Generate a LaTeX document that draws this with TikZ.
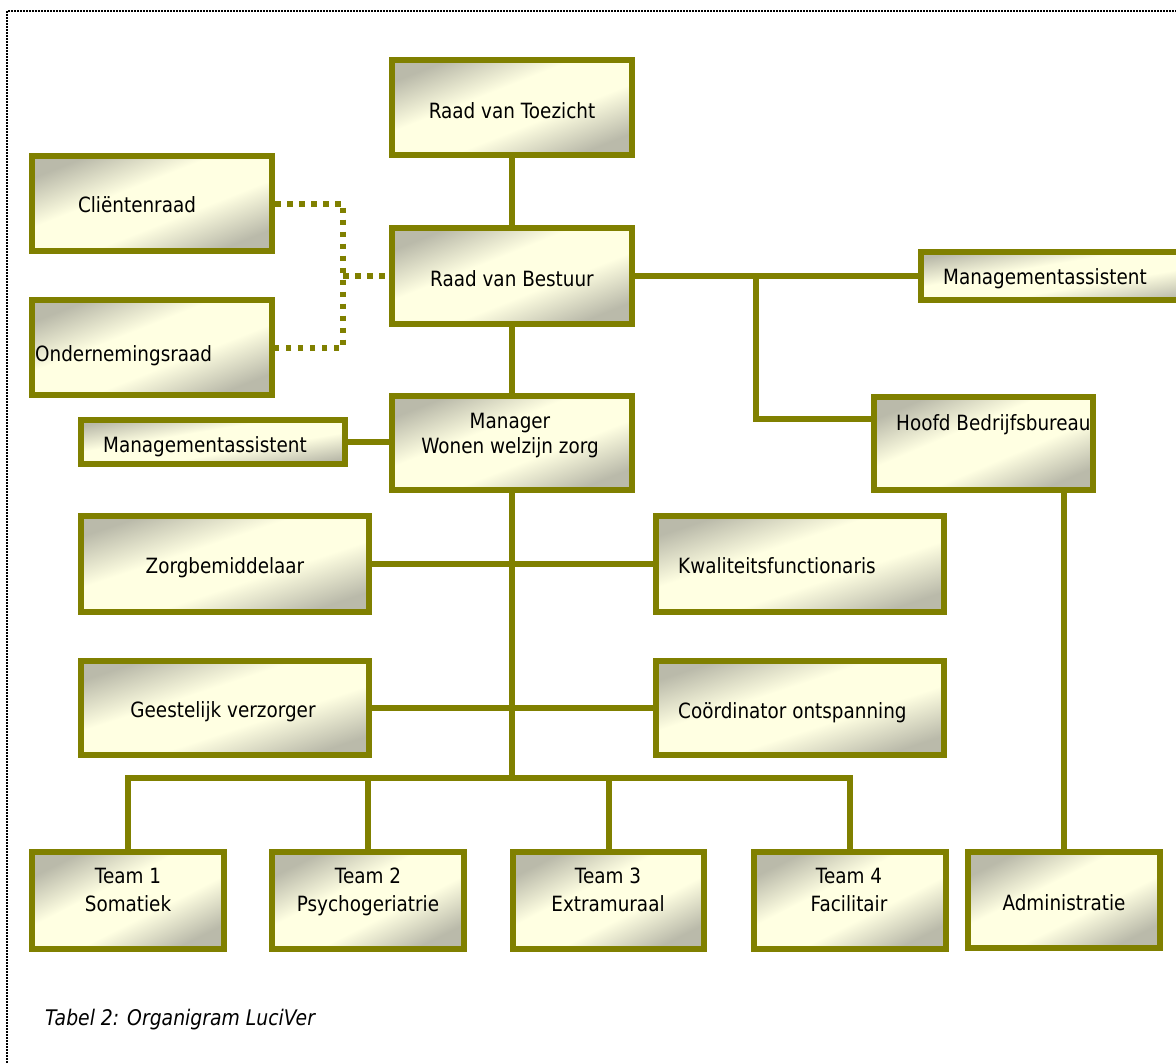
\documentclass[tikz,border=0pt]{standalone}
\usepackage{fontspec}
\setmainfont{DejaVu Sans}[FakeStretch=0.875]
\definecolor{olv}{RGB}{128,128,0}
\definecolor{bxgray}{RGB}{186,186,170}
\definecolor{bxyel}{RGB}{255,255,226}
\pgfdeclareverticalshading{boxshade}{100bp}{color(0bp)=(bxgray); color(25bp)=(bxgray); color(42bp)=(bxyel); color(58bp)=(bxyel); color(75bp)=(bxgray); color(100bp)=(bxgray)}
\begin{document}
\begin{tikzpicture}[x=1pt,y=-1pt,
  box/.style={rectangle, draw=olv, line width=6pt, inner sep=0pt,
    shade, shading=boxshade},
  conn/.style={draw=olv, line width=6pt},
  dotconn/.style={draw=olv, line width=6pt, dash pattern=on 5.5pt off 6.5pt},
  lbl/.style={font=\fontsize{21}{25}\selectfont, inner sep=0pt, text=black, align=center},
  frame/.style={draw=black, line width=1.8pt, dash pattern=on 1.6pt off 1.4pt}]
\useasboundingbox (0,0) rectangle (1176,1063);

% frame
\coordinate (fa) at (7,1063);
\coordinate (fb) at (7,11);
\coordinate (fc) at (1176,11);
\draw[frame] (fa) -- (fb) -- (fc);

% connector junctions
\coordinate (jb) at (756,276);
\coordinate (dj) at (343,276);
\coordinate (bus) at (512,778);

% boxes (geometry only)
\path
  (512,107.5) node[box, shading angle=21.6, minimum width=240pt, minimum height=95pt] (toez) {}
  (512,276)   node[box, shading angle=21.8, minimum width=240pt, minimum height=96pt] (best) {}
  (152,203.5) node[box, shading angle=21.6, minimum width=240pt, minimum height=95pt] (client) {}
  (152,347.5) node[box, shading angle=21.6, minimum width=240pt, minimum height=95pt] (onder) {}
  (512,443)   node[box, shading angle=21.4, minimum width=240pt, minimum height=94pt] (mgr) {}
  (213,442)   node[box, shading angle=9.5, minimum width=264pt, minimum height=44pt] (maa) {}
  (1062,276)  node[box, shading angle=9.7, minimum width=282pt, minimum height=48pt] (mab) {}
  (983.5,443.5) node[box, shading angle=23, minimum width=219pt, minimum height=93pt] (hoofd) {}
  (225,564)   node[box, shading angle=18.4, minimum width=288pt, minimum height=96pt] (zorg) {}
  (800,564)   node[box, shading angle=18.4, minimum width=288pt, minimum height=96pt] (kwal) {}
  (225,708)   node[box, shading angle=18.1, minimum width=288pt, minimum height=94pt] (geest) {}
  (800,708)   node[box, shading angle=18.1, minimum width=288pt, minimum height=94pt] (coord) {}
  (128,900.5) node[box, shading angle=26.8, minimum width=192pt, minimum height=97pt] (teama) {}
  (368,900.5) node[box, shading angle=26.8, minimum width=192pt, minimum height=97pt] (teamb) {}
  (608.5,900.5) node[box, shading angle=26.9, minimum width=191pt, minimum height=97pt] (teamc) {}
  (850,900.5) node[box, shading angle=26.8, minimum width=192pt, minimum height=97pt] (teamd) {}
  (1064,900)  node[box, shading angle=26.6, minimum width=192pt, minimum height=96pt] (admin) {};

% connectors
\draw[conn] (toez.south) -- (best.north);
\draw[conn] (best.south) -- (mgr.north);
\draw[conn] (best.east) -- (mab.west);
\draw[conn] (jb) |- ([yshift=24.5pt]hoofd.west);
\draw[conn] (maa.east) -- (maa.east -| mgr.west);
\draw[conn] (mgr.south) -- (bus);
\draw[conn] (zorg.east) -- (kwal.west);
\draw[conn] (geest.east) -- (coord.west);
\draw[conn] (teama.north) -- (teama.north |- bus) -- (teamd.north |- bus) -- (teamd.north);
\draw[conn] (teamb.north) -- (teamb.north |- bus);
\draw[conn] (teamc.north) -- (teamc.north |- bus);
\draw[conn] (admin.north) -- (admin.north |- hoofd.south);
\draw[dotconn] (client.east) -| (dj) |- (onder.east);
\draw[dotconn] (dj) -- (best.west);

% texts
\node[lbl, anchor=base] (toezt) at (512,118) {Raad van Toezicht};
\node[lbl, anchor=base] (bestt) at (512,286) {Raad van Bestuur};
\node[lbl, anchor=base] (clientt) at (137,212) {Cliëntenraad};
\node[lbl, anchor=base west] (ondert) at (35,361) {Ondernemingsraad};
\node[lbl, anchor=base] (mgrt) at (510,453) {Manager\\Wonen welzijn zorg};
\node[lbl, anchor=base west] (maat) at (103,452) {Managementassistent};
\node[lbl, anchor=base west] (mabt) at (943,284) {Managementassistent};
\node[lbl, anchor=base west] (hoofdt) at (896,430) {Hoofd Bedrijfsbureau};
\node[lbl, anchor=base] (zorgt) at (225,573) {Zorgbemiddelaar};
\node[lbl, anchor=base west] (kwalt) at (678,573) {Kwaliteitsfunctionaris};
\node[lbl, anchor=base] (geestt) at (223,717) {Geestelijk verzorger};
\node[lbl, anchor=base west] (coordt) at (678,718) {Coördinator ontspanning};
\node[lbl, anchor=base] (teamat) at (128,911) {Team 1\\[3pt]Somatiek};
\node[lbl, anchor=base] (teambt) at (368,911) {Team 2\\[3pt]Psychogeriatrie};
\node[lbl, anchor=base] (teamct) at (608,911) {Team 3\\[3pt]Extramuraal};
\node[lbl, anchor=base] (teamdt) at (849,911) {Team 4\\[3pt]Facilitair};
\node[lbl, anchor=base] (admint) at (1064,910) {Administratie};
\node[lbl, anchor=base west, font=\fontsize{21.5}{25}\selectfont\itshape] (capt) at (45,1025) {Tabel 2: Organigram LuciVer};
\end{tikzpicture}
\end{document}
